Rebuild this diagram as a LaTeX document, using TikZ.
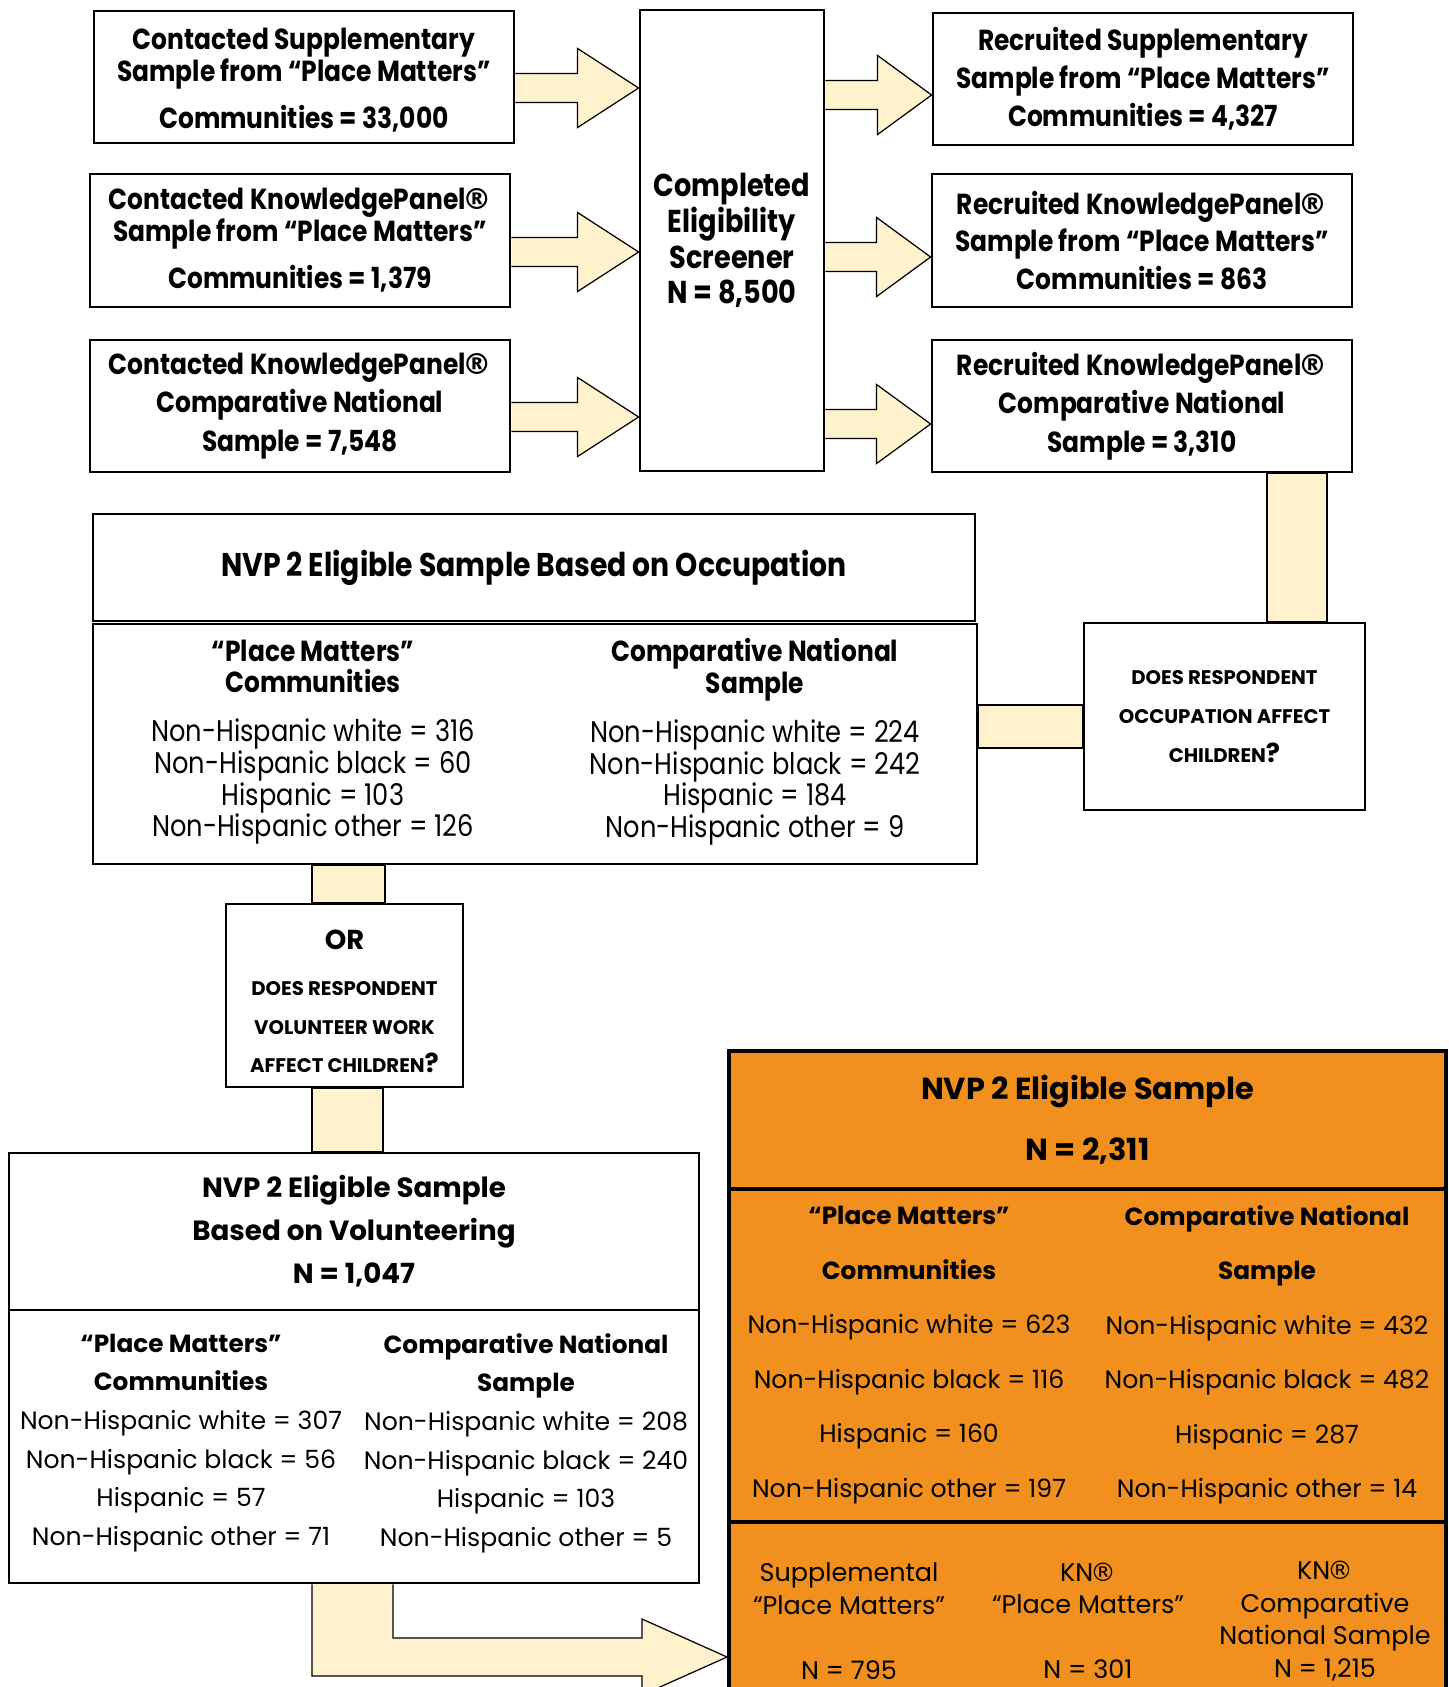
\documentclass[tikz,border=0pt]{standalone}
\usepackage{fontspec}
\setmainfont{Poppins}
\newfontfamily\narrowfont[FakeStretch=0.86]{Poppins}
\newfontfamily\regfont{DejaVu Sans}
\usepackage{tikz}
\usetikzlibrary{calc,backgrounds}
\definecolor{cream}{RGB}{255,242,204}
\definecolor{orangefill}{RGB}{241,143,31}
\tikzset{
  box/.style={draw,line width=1.6pt,fill=white,inner sep=0pt,align=center},
  obox/.style={draw,line width=2.2pt,fill=orangefill,inner sep=0pt,align=center},
  wh/.style 2 args={minimum width=#1*0.02cm,minimum height=#2*0.02cm},
  fatarr/.style={draw=black,line width=0.7pt,fill=cream,line join=miter},
  bar/.style={draw=black,line width=1pt,fill=cream},
  toptext/.style={font=\narrowfont\bfseries\fontsize{16.5}{18}\selectfont},
  capstext/.style={font=\bfseries\fontsize{11.2}{22}\selectfont},
  coltext/.style={align=center,inner sep=0pt},
}
% fat block arrow from a box to the next one: source, target, y, head length
\newcommand\fatarrow[4]{%
  \draw[fatarr] (#1.east |- 0,#3-14.5) -- ($(#2.west |- 0,#3-14.5)+(-#4,0)$)
    -- ($(#2.west |- 0,#3-39.5)+(-#4,0)$) -- (#2.west |- 0,#3)
    -- ($(#2.west |- 0,#3+39.5)+(-#4,0)$) -- ($(#2.west |- 0,#3+14.5)+(-#4,0)$)
    -- (#1.east |- 0,#3+14.5);}
\newcommand\bigq{{\fontsize{15}{15}\selectfont ?}}
\newcommand\reg{\kern-0.12em{\regfont ®}}
\newcommand\occhd[1]{{\bfseries\fontsize{16.5}{18}\selectfont #1}}
\newcommand\colhd[1]{{\bfseries\fontsize{14.1}{22}\selectfont #1}}
\begin{document}
\begin{tikzpicture}[x=0.02cm,y=-0.02cm]
\useasboundingbox (0,0) rectangle (1448,1687);
\clip (0,0) rectangle (1448,1687);
% contacted samples
\node[box,toptext,wh={420}{132}] (c1) at (304,77) {\rule{0pt}{16pt}Contacted Supplementary\\Sample from “Place Matters”\\[9pt]Communities = 33,000};
\node[box,toptext,wh={420}{133}] (c2) at (300,240.5) {Contacted KnowledgePanel\reg\\Sample from “Place Matters”\\[9pt]Communities = 1,379};
\node[box,toptext,wh={420}{132}] (c3) at (300,406) {Contacted KnowledgePanel\reg\\[4pt]Comparative National\\[4pt]Sample = 7,548};
% screener
\node[box,font=\narrowfont\bfseries\fontsize{18}{20.4}\selectfont,wh={184}{461}] (s) at (732,240.5) {Completed\\Eligibility\\Screener\\N = 8,500};
% recruited samples
\node[box,toptext,wh={420}{132}] (r1) at (1143,79) {Recruited Supplementary\\[3.5pt]Sample from “Place Matters”\\[3.5pt]Communities = 4,327};
\node[box,toptext,wh={420}{133}] (r2) at (1142,240.5) {Recruited KnowledgePanel\reg\\[3.5pt]Sample from “Place Matters”\\[3.5pt]Communities = 863};
\node[box,toptext,wh={420}{132}] (r3) at (1142,406) {Recruited KnowledgePanel\reg\\[4pt]Comparative National\\[4pt]Sample = 3,310};
% eligible by occupation
\node[box,font=\narrowfont\bfseries\fontsize{18.7}{20}\selectfont,wh={882}{107}] (occhead) at (534,567.5) {NVP 2 Eligible Sample Based on Occupation};
\node[box,wh={884}{240}] (occbody) at (535,744) {};
\node[coltext,font=\narrowfont\fontsize{17}{18}\selectfont] (occpm) at (313,742)
  {\occhd{“Place Matters”}\\\occhd{Communities}\\[10pt]Non-Hispanic white = 316\\Non-Hispanic black = 60\\Hispanic = 103\\Non-Hispanic other = 126};
\node[coltext,font=\narrowfont\fontsize{17}{18}\selectfont] (occcn) at (755,742)
  {\occhd{Comparative National}\\\occhd{Sample}\\[10pt]Non-Hispanic white = 224\\Non-Hispanic black = 242\\Hispanic = 184\\Non-Hispanic other = 9};
\node[box,capstext,wh={281}{187}] (q1) at (1224.5,716.5) {DOES RESPONDENT\\OCCUPATION AFFECT\\CHILDREN\bigq};
\node[box,capstext,wh={237}{183}] (q2) at (344.5,995.5) {{\fontsize{15.6}{22}\selectfont\rule{0pt}{18pt}OR}\\[4pt]DOES RESPONDENT\\VOLUNTEER WORK\\AFFECT CHILDREN\bigq};
% eligible by volunteering
\node[box,font=\bfseries\fontsize{15.8}{24.4}\selectfont,wh={690}{157}] (volhead) at (354,1231.5) {NVP 2 Eligible Sample\\Based on Volunteering\\N = 1,047};
\node[box,wh={690}{273}] (volbody) at (354,1446.5) {};
\node[coltext,font=\fontsize{14.3}{22}\selectfont] (volpm) at (181,1443)
  {\colhd{“Place Matters”}\\\colhd{Communities}\\Non-Hispanic white = 307\\Non-Hispanic black = 56\\Hispanic = 57\\Non-Hispanic other = 71};
\node[coltext,font=\fontsize{14.3}{22}\selectfont] (volcn) at (526,1443)
  {\colhd{Comparative National}\\\colhd{Sample}\\Non-Hispanic white = 208\\Non-Hispanic black = 240\\Hispanic = 103\\Non-Hispanic other = 5};
% final eligible sample
\node[obox,font=\bfseries\fontsize{17.3}{35}\selectfont,wh={717}{138}] (orhead) at (1087.5,1120) {NVP 2 Eligible Sample\\N = 2,311};
\node[obox,wh={717}{333}] (ormid) at (1087.5,1355.5) {};
\node[obox,wh={717}{208}] (orbot) at (1087.5,1626) {};
\node[coltext,font=\fontsize{14.3}{31}\selectfont] (orpm) at (909,1355)
  {\colhd{“Place Matters”}\\\colhd{Communities}\\Non-Hispanic white = 623\\Non-Hispanic black = 116\\Hispanic = 160\\Non-Hispanic other = 197};
\node[coltext,font=\fontsize{14.3}{31}\selectfont] (orcn) at (1267,1355)
  {\colhd{Comparative National}\\\colhd{Sample}\\Non-Hispanic white = 432\\Non-Hispanic black = 482\\Hispanic = 287\\Non-Hispanic other = 14};
\node[coltext,font=\fontsize{14.5}{18.5}\selectfont] (orsup) at (849,1621) {Supplemental\\“Place Matters”\\\mbox{}\\N = 795};
\node[coltext,font=\fontsize{14.5}{18.5}\selectfont] (orkn) at (1088,1621) {KN\reg\\“Place Matters”\\\mbox{}\\N = 301};
\node[coltext,font=\fontsize{14.5}{18.5}\selectfont] (orkncn) at (1325,1621) {KN\reg\\Comparative\\National Sample\\N = 1,215};
% connectors
\begin{scope}[on background layer]
  \clip (0,0) rectangle (1448,1687);
  \fatarrow{c1}{s}{88}{61}
  \fatarrow{c2}{s}{252}{61}
  \fatarrow{c3}{s}{417}{61}
  \fatarrow{s}{r1}{95}{54}
  \fatarrow{s}{r2}{257}{54}
  \fatarrow{s}{r3}{424}{54}
  \draw[bar] (1267,0 |- r3.south) rectangle (1327,0 |- q1.north);
  \draw[bar] (occbody.east |- 0,705) rectangle (q1.west |- 0,748);
  \draw[bar] (312,0 |- occbody.south) rectangle (385,0 |- q2.north);
  \draw[bar] (312,0 |- q2.south) rectangle (383,0 |- volhead.north);
  \draw[fatarr] (312,0 |- volbody.south) -- (312,1676) -- (642,1676) -- (642,1695)
    -- (orbot.west |- 0,1657) -- (642,1619) -- (642,1638) -- (393,1638)
    -- (393,0 |- volbody.south);
\end{scope}
\end{tikzpicture}
\end{document}
